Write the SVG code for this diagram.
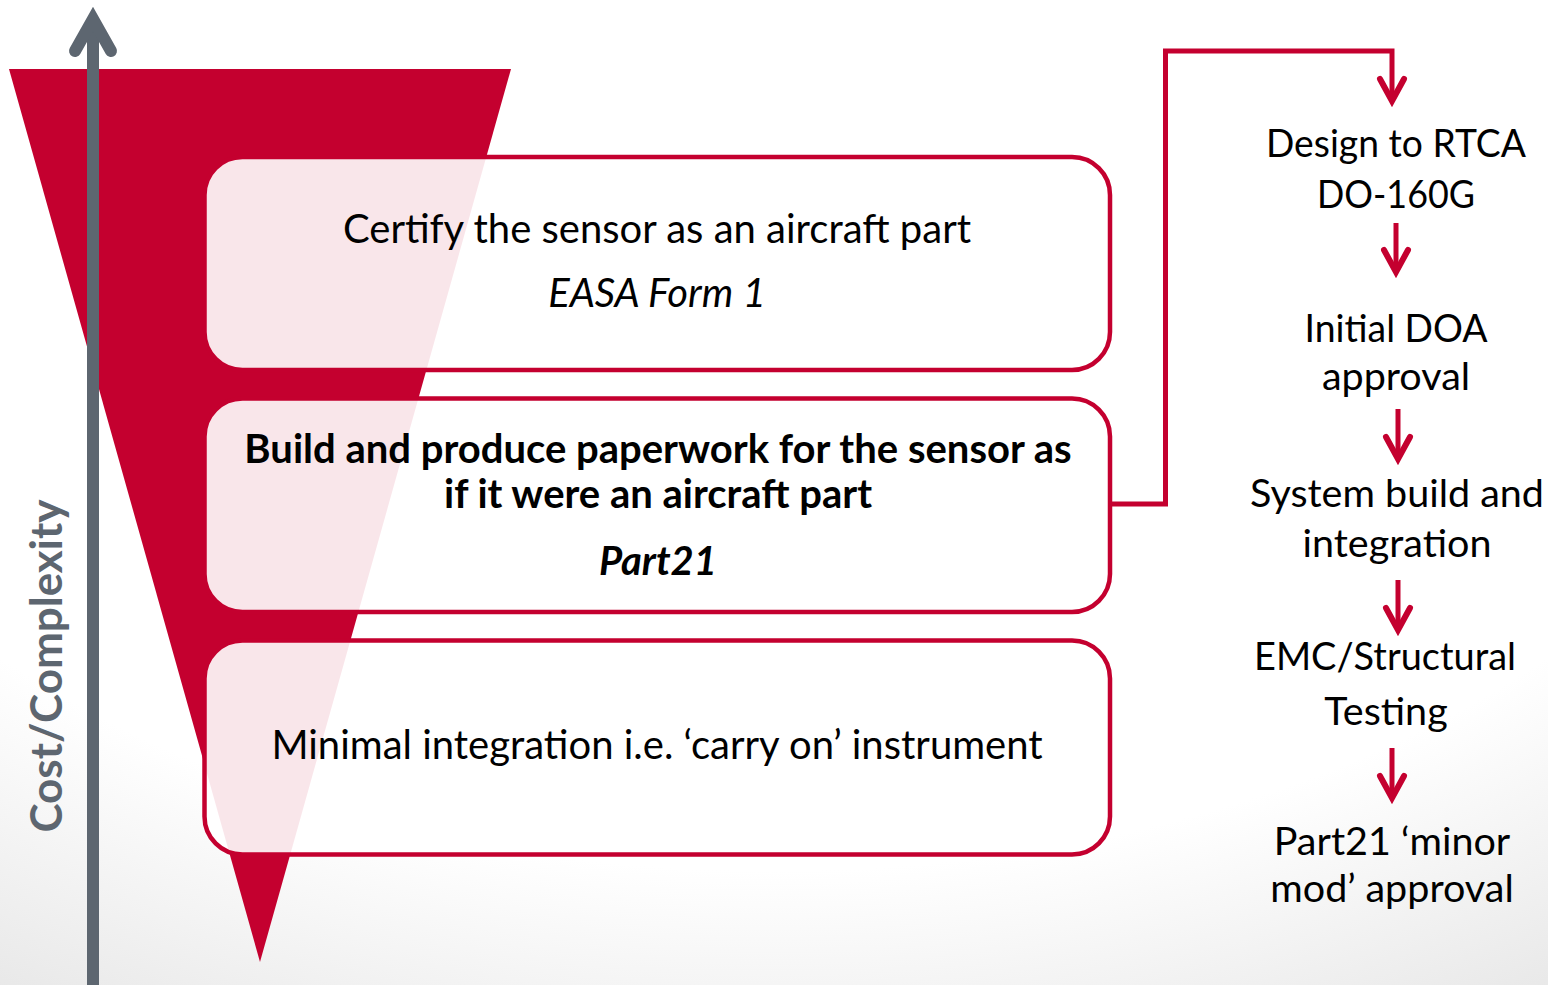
<svg xmlns="http://www.w3.org/2000/svg" width="1548" height="985" viewBox="0 0 1548 985">
  <defs>
    <radialGradient id="bg" cx="50%" cy="20%" r="95%">
      <stop offset="0.72" stop-color="#ffffff"/>
      <stop offset="1" stop-color="#e8e8e8"/>
    </radialGradient>
    <marker id="chev" markerUnits="userSpaceOnUse" markerWidth="40" markerHeight="40" viewBox="-30 -20 40 40" refX="0" refY="0" orient="auto" overflow="visible">
      <path d="M-22,-12 L0,0 L-22,12" fill="none" stroke="#c4002f" stroke-width="6" stroke-linecap="round" stroke-linejoin="miter"/>
    </marker>
    <style>
      .box { fill: #ffffff; fill-opacity: 0.9; stroke: #c4002f; stroke-width: 4.5; }
      .t { font-family: Lato, "Open Sans", sans-serif; font-size: 39.5px; fill: #000; text-anchor: middle; }
      .l { font-size: 40px; }
      .b { font-weight: bold; }
      .i { font-style: italic; }
      .conn { fill: none; stroke: #c4002f; stroke-width: 5; }
      .axis { fill: none; stroke: #5d6670; stroke-width: 12; }
    </style>
  </defs>
  <rect x="0" y="0" width="1548" height="985" fill="url(#bg)"/>

  <g id="funnel">
    <polygon points="9,69 511,69 260,962" fill="#c4002f"/>
  </g>

  <g id="axis">
    <line class="axis" x1="93" y1="22" x2="93" y2="985"/>
    <polyline class="axis" points="75,51 93,19 111,51" stroke-linecap="round" stroke-linejoin="miter"/>
    <text x="62" y="666" transform="rotate(-90 62 666)" font-family="Lato, 'Open Sans', sans-serif" font-weight="bold" font-size="44" fill="#5d6670" text-anchor="middle">Cost/Complexity</text>
  </g>

  <g id="box-certify">
    <rect class="box" x="204.5" y="157" width="905.5" height="213" rx="38" ry="38"/>
    <text class="t l" x="657" y="243">Certify the sensor as an aircraft part</text>
    <text class="t l i" x="657" y="307">EASA Form 1</text>
  </g>

  <g id="box-build">
    <rect class="box" x="204.5" y="398.5" width="905.5" height="213.5" rx="38" ry="38"/>
    <text class="t l b" x="658" y="463">Build and produce paperwork for the sensor as</text>
    <text class="t l b" x="658" y="508">if it were an aircraft part</text>
    <text class="t l b i" x="658" y="575">Part21</text>
  </g>

  <g id="box-minimal">
    <rect class="box" x="204.5" y="640.5" width="905.5" height="214" rx="38" ry="38"/>
    <text class="t l" x="657" y="759">Minimal integration i.e. ‘carry on’ instrument</text>
  </g>

  <g id="connectors">
    <path class="conn" d="M1110,504 H1165.5 V51 H1392 V101" marker-end="url(#chev)"/>
    <path class="conn" d="M1396,223 V272" marker-end="url(#chev)"/>
    <path class="conn" d="M1398,409 V459" marker-end="url(#chev)"/>
    <path class="conn" d="M1398,580 V630" marker-end="url(#chev)"/>
    <path class="conn" d="M1392,748 V798" marker-end="url(#chev)"/>
  </g>

  <g id="step-design">
    <text class="t" x="1396" y="157" textLength="260" lengthAdjust="spacingAndGlyphs">Design to RTCA</text>
    <text class="t" x="1396" y="208" textLength="158" lengthAdjust="spacingAndGlyphs">DO-160G</text>
  </g>
  <g id="step-doa">
    <text class="t" x="1396" y="342" textLength="183" lengthAdjust="spacingAndGlyphs">Initial DOA</text>
    <text class="t" x="1396" y="390">approval</text>
  </g>
  <g id="step-build">
    <text class="t" x="1397" y="507">System build and</text>
    <text class="t" x="1397" y="557">integration</text>
  </g>
  <g id="step-emc">
    <text class="t" x="1385" y="670" textLength="262" lengthAdjust="spacingAndGlyphs">EMC/Structural</text>
    <text class="t" x="1386" y="725">Testing</text>
  </g>
  <g id="step-part21">
    <text class="t" x="1392" y="855">Part21 ‘minor</text>
    <text class="t" x="1392" y="902">mod’ approval</text>
  </g>
</svg>
